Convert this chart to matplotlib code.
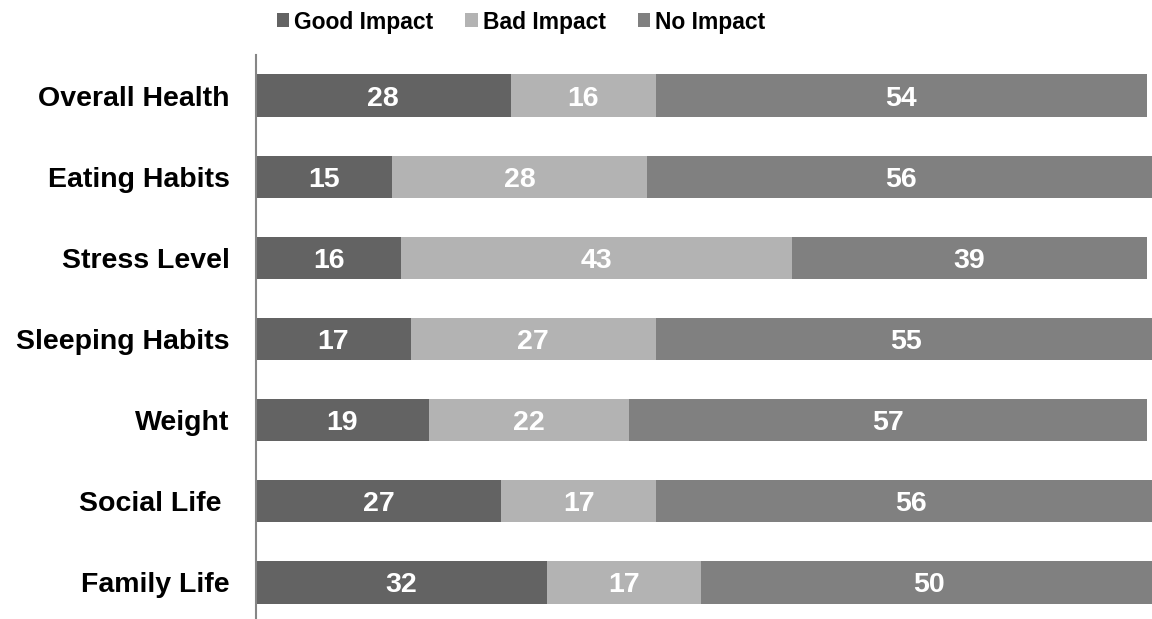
import matplotlib.pyplot as plt
from matplotlib.patches import Patch

# dados (porcentagens)
categorias = ["Overall Health", "Eating Habits", "Stress Level", "Sleeping Habits",
              "Weight", "Social Life ", "Family Life"]
good_impact = [28, 15, 16, 17, 19, 27, 32]
bad_impact = [16, 28, 43, 27, 22, 17, 17]
no_impact = [54, 56, 39, 55, 57, 56, 50]

series = ["Good Impact", "Bad Impact", "No Impact"]
cores = ["#636363", "#b3b3b3", "#808080"]

plt.rcParams['font.family'] = ['Liberation Sans', 'DejaVu Sans']
plt.rcParams['font.weight'] = 'bold'

W, H = 1152, 619
fig = plt.figure(figsize=(W / 100, H / 100), dpi=100)
# eixo estendido alem da borda direita/inferior da figura, como no original
ax = fig.add_axes([256 / W, (H - 623) / H, 909 / W, (623 - 55) / H])

y = list(range(len(categorias)))
esquerda = [0] * len(categorias)
for nome, valores, cor in zip(series, [good_impact, bad_impact, no_impact], cores):
    barras = ax.barh(y, valores, left=esquerda, height=0.52, color=cor, label=nome)
    for yi, v, l in zip(y, valores, esquerda):
        ax.text(l + v / 2, yi, str(v), ha='center', va='center_baseline', color='white',
                fontsize=20.5, fontweight='bold')
    esquerda = [a + b for a, b in zip(esquerda, valores)]

ax.set_xlim(0, 100)
ax.set_ylim(len(categorias) - 0.5, -0.5)
ax.set_yticks(y)
ax.set_yticklabels(categorias, fontsize=20.5, fontweight='bold')
ax.tick_params(axis='y', length=0, pad=19)
ax.set_xticks([])
for lado in ['top', 'right', 'bottom']:
    ax.spines[lado].set_visible(False)
ax.spines['left'].set_color('#868686')
ax.spines['left'].set_linewidth(1.5)

handles = [Patch(facecolor=c, label=s) for s, c in zip(series, cores)]
fig.legend(handles=handles, loc='center', bbox_to_anchor=(521 / W, 1 - 22 / H), ncol=3,
           frameon=False, handlelength=0.55, handleheight=0.55, handletextpad=0.2,
           columnspacing=1.4, prop={'size': 16.5, 'weight': 'bold'})

plt.savefig('out.png', dpi=100)
